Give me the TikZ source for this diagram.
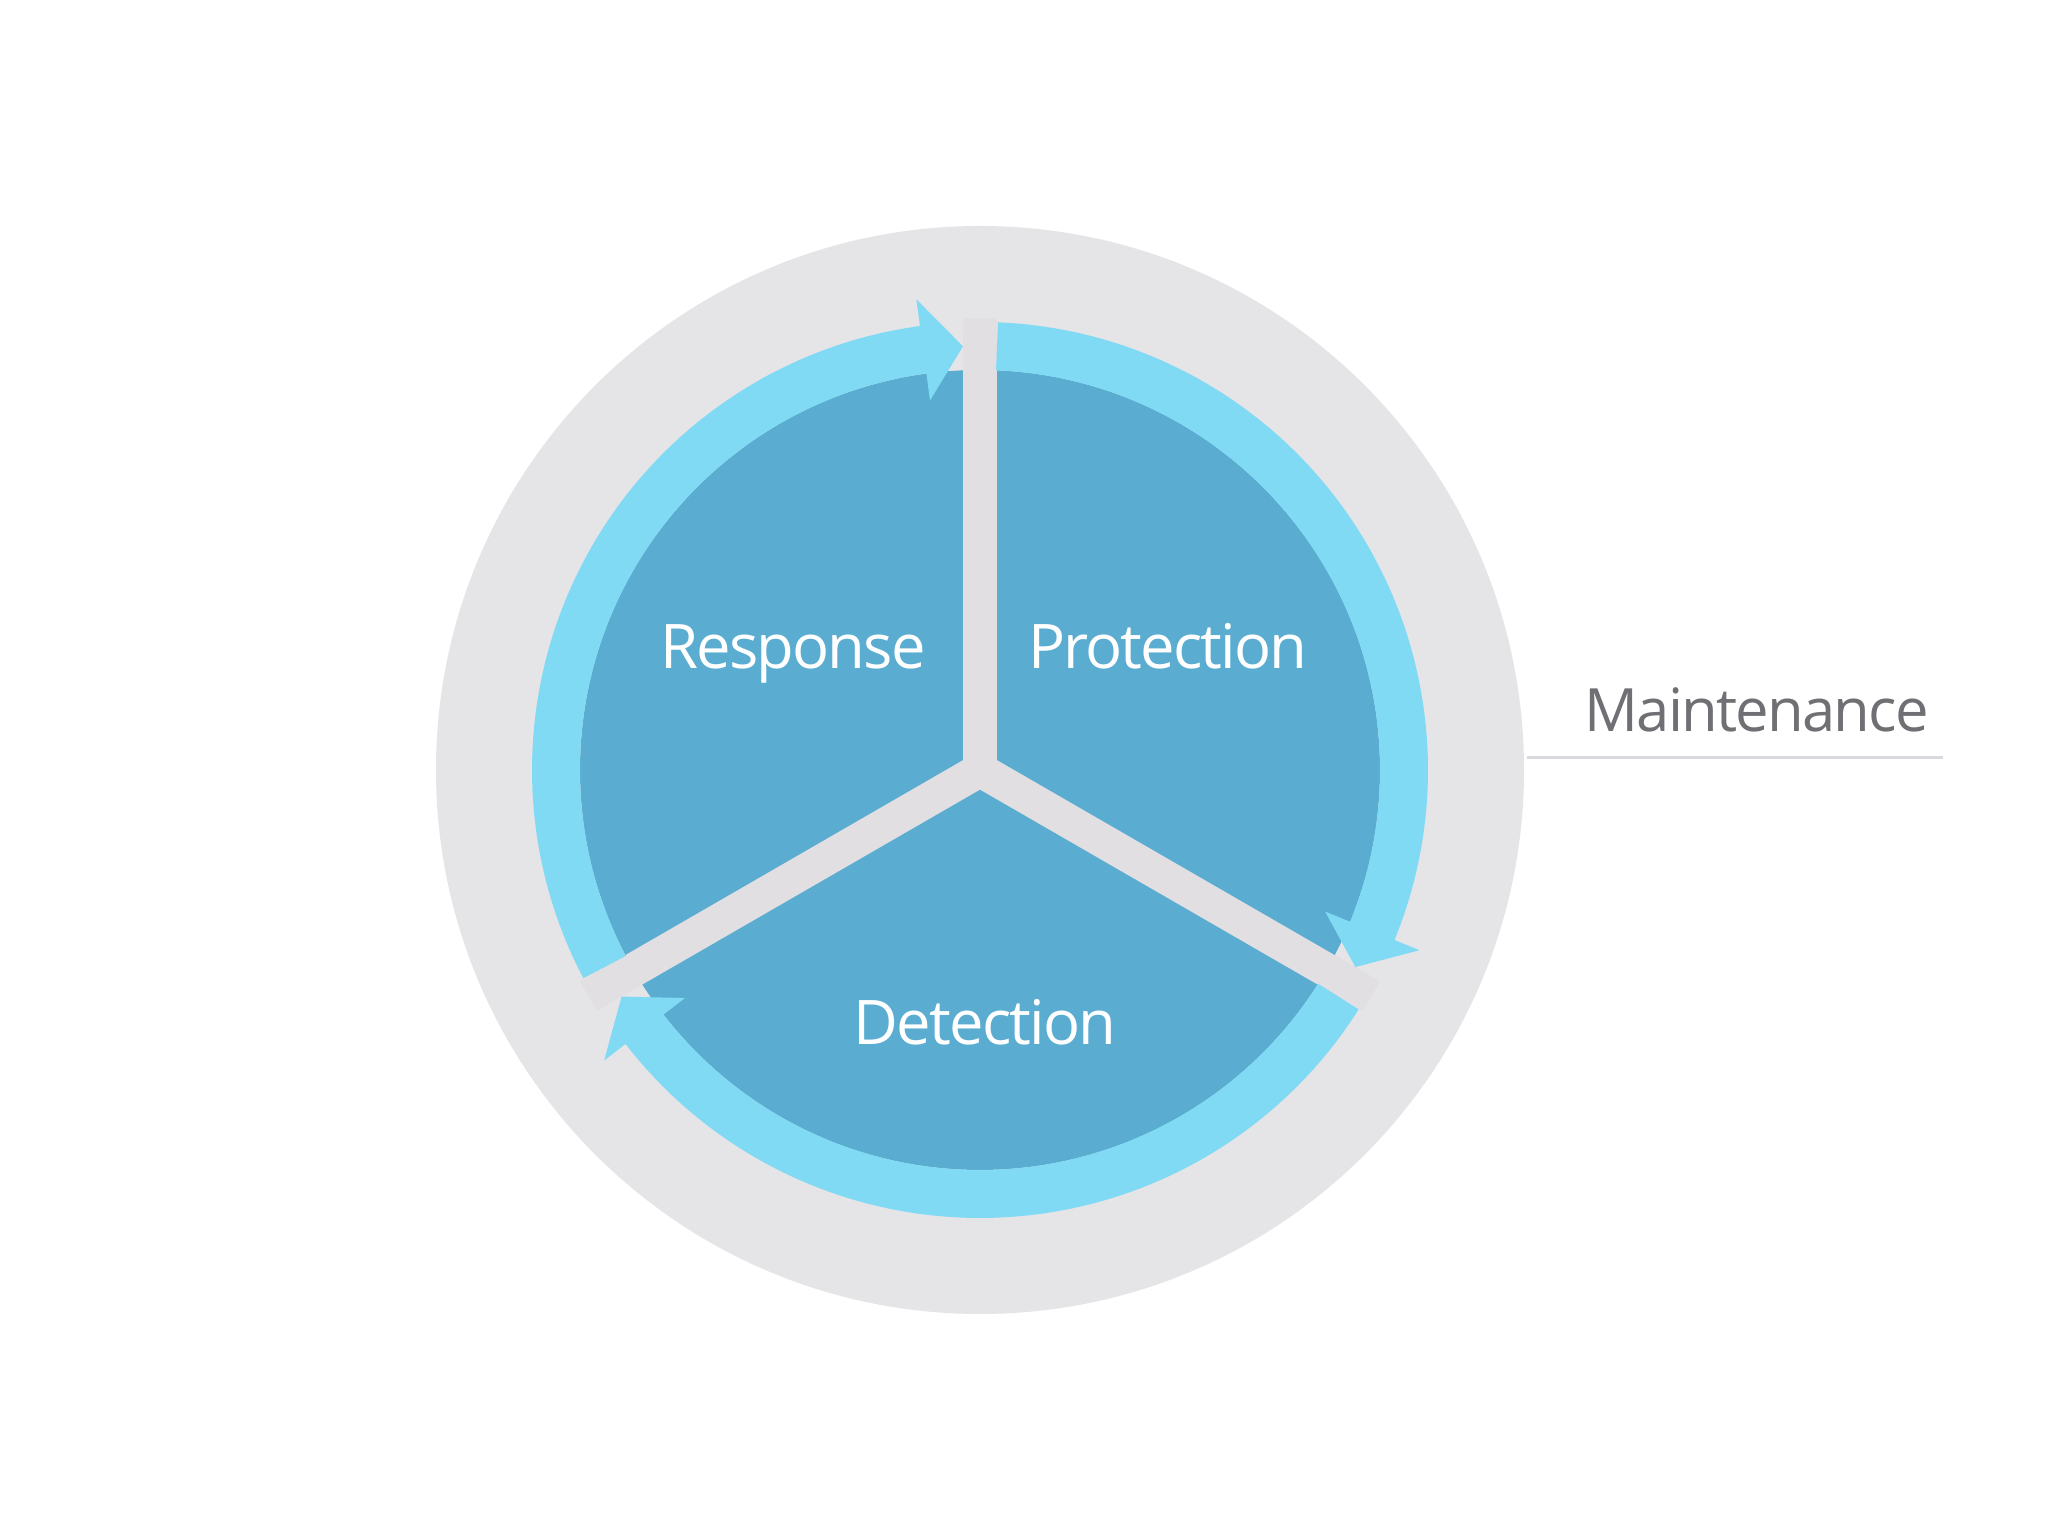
\documentclass[tikz,border=0pt]{standalone}
\usepackage{fontspec}
\setmainfont{Open Sans}[LetterSpace=-3]
\definecolor{discgray}{HTML}{E5E4E7}
\definecolor{spokegray}{HTML}{E2DFE2}
\definecolor{sectorblue}{HTML}{5AADD1}
\definecolor{ringblue}{HTML}{80DAF4}
\definecolor{labelgray}{HTML}{707074}
\definecolor{rulegray}{HTML}{D8D8DE}
\begin{document}
\begin{tikzpicture}[every node/.style={inner sep=0pt},
  spoke/.style={line width=0.34cm,spokegray},
  phase/.style={text=white,font=\fontsize{17.5}{21}\selectfont,anchor=base}]
  \useasboundingbox[fill=white] (0,0) rectangle (20.48,15.36);
  \coordinate (c) at (9.80,7.66);
  \node[circle,fill=discgray,minimum size=10.88cm] (disc) at (c) {};
  \fill[sectorblue] (c) circle[radius=4.00];
  \foreach \a in {90,210,330}
    \draw[spoke] (c) -- ++(\a:4.52);
  % cycle arrows, clockwise: band from \s, head ending at \t
  \foreach \s/\t in {207.7/92.3, 87.7/-27.7, -32.3/-147.7} {
    \pgfmathsetmacro\b{\t+5.4}
    \fill[ringblue,shift={(c)}] (\s:4.00) arc[start angle=\s, end angle=\b, radius=4.00]
      -- (\b:3.73) -- (\t:4.24) -- (\b:4.75) -- (\b:4.48)
      arc[start angle=\b, end angle=\s, radius=4.48] -- cycle;
  }
  \node[phase] (resp) at (7.93,8.67) {Response};
  \node[phase] (prot) at (11.68,8.67) {Protection};
  \node[phase] (detc) at (9.85,4.91) {Detection};
  \node[anchor=base west,text=labelgray,font=\fontsize{17}{21}\selectfont] (maint) at (15.84,8.04) {Maintenance};
  \coordinate (ruleL) at (15.27,7.78);
  \coordinate (ruleR) at (19.43,7.78);
  \draw[rulegray,line width=0.03cm] (ruleL) -- (ruleR);
\end{tikzpicture}
\end{document}
